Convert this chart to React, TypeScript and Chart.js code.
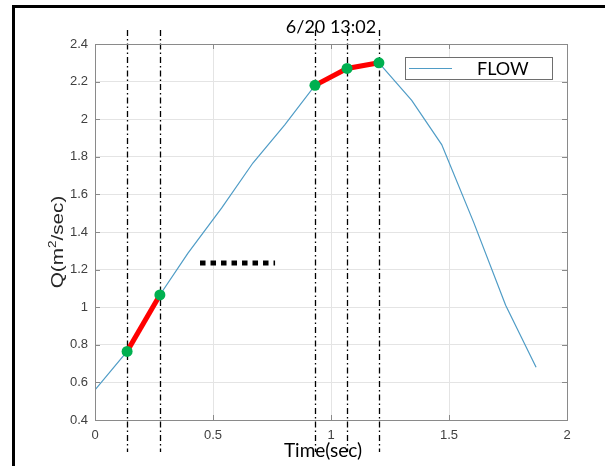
import React, { useEffect, useRef } from "react";
import { Chart, registerables } from "chart.js";

Chart.register(...registerables);

// ---- data ----
const TIME = [0, 0.136, 0.275, 0.394, 0.537, 0.669, 0.804, 0.932, 1.068, 1.203, 1.342, 1.469, 1.605, 1.74, 1.869];
const FLOW = [0.56, 0.765, 1.065, 1.288, 1.528, 1.767, 1.97, 2.18, 2.27, 2.3, 2.1, 1.865, 1.45, 1.01, 0.68];

const SEG1_TIME = [0.136, 0.275];
const SEG1_FLOW = [0.765, 1.065];
const SEG2_TIME = [0.932, 1.068, 1.203];
const SEG2_FLOW = [2.18, 2.27, 2.3];

const MARK_TIME = [0.136, 0.275, 0.932, 1.068, 1.203];
const MARK_FLOW = [0.765, 1.065, 2.18, 2.27, 2.3];

const DOTTED_TIME = [0.445, 0.763];
const DOTTED_FLOW = [1.235, 1.235];

const X_TICKS = [0, 0.5, 1, 1.5, 2];
const Y_TICKS = [0.4, 0.6, 0.8, 1, 1.2, 1.4, 1.6, 1.8, 2, 2.2, 2.4];

const TITLE = "6/20 13:02";
const X_LABEL = "Time(sec)";
const Y_LABEL_PARTS = ["Q(m", "2", "/sec)"];
const LEGEND_LABEL = "FLOW";

const BLUE = "#4f9cc6";
const RED = "#ff0000";
const GREEN = "#00b050";
const BOX = "#8a8a8a";
const GRID = "#e4e4e4";
const TICK_TEXT = "#404040";

const pts = (xs: number[], ys: number[]) => xs.map((x, i) => ({ x, y: ys[i] }));

const decor = {
  id: "decor",
  beforeDraw(chart: any) {
    const ctx = chart.ctx;
    ctx.save();
    ctx.fillStyle = "#ffffff";
    ctx.fillRect(0, 0, chart.width, chart.height);
    ctx.fillStyle = "#000000";
    ctx.fillRect(12, 5, 3, chart.height);
    ctx.fillRect(12, 5, chart.width, 3);
    ctx.restore();
  },
  beforeDatasetsDraw(chart: any) {
    const ctx = chart.ctx;
    const xs = chart.scales.x;
    ctx.save();
    ctx.strokeStyle = "#000000";
    ctx.lineWidth = 1.3;
    ctx.setLineDash([6, 3, 1.5, 3]);
    MARK_TIME.forEach((t) => {
      const px = Math.round(xs.getPixelForValue(t)) + 0.5;
      ctx.beginPath();
      ctx.moveTo(px, 30);
      ctx.lineTo(px, 452);
      ctx.stroke();
    });
    ctx.restore();
  },
  afterDraw(chart: any) {
    const ctx = chart.ctx;
    const a = chart.chartArea;
    const xs = chart.scales.x;
    const ys = chart.scales.y;
    ctx.save();
    // box
    ctx.strokeStyle = BOX;
    ctx.lineWidth = 1;
    ctx.strokeRect(Math.round(a.left) + 0.5, Math.round(a.top) + 0.5, Math.round(a.right - a.left), Math.round(a.bottom - a.top));
    // inner ticks
    const tl = 5;
    ctx.beginPath();
    X_TICKS.forEach((v) => {
      const px = Math.round(xs.getPixelForValue(v)) + 0.5;
      ctx.moveTo(px, a.bottom);
      ctx.lineTo(px, a.bottom - tl);
      ctx.moveTo(px, a.top);
      ctx.lineTo(px, a.top + tl);
    });
    Y_TICKS.forEach((v) => {
      const py = Math.round(ys.getPixelForValue(v)) + 0.5;
      ctx.moveTo(a.left, py);
      ctx.lineTo(a.left + tl, py);
      ctx.moveTo(a.right, py);
      ctx.lineTo(a.right - tl, py);
    });
    ctx.stroke();

    const cx = (a.left + a.right) / 2;
    // title
    ctx.fillStyle = "#000000";
    ctx.font = "18px Lato";
    ctx.textAlign = "center";
    ctx.textBaseline = "middle";
    ctx.fillText(TITLE, cx, 27);
    // x label
    ctx.font = "19px Lato";
    ctx.fillText(X_LABEL, cx - 8, 451);

    // y label with superscript
    ctx.save();
    ctx.translate(57, 242);
    ctx.rotate(-Math.PI / 2);
    ctx.scale(1.22, 1);
    ctx.fillStyle = "#262626";
    const big = "17px 'Liberation Sans'";
    const small = "11px 'Liberation Sans'";
    ctx.font = big;
    const w0 = ctx.measureText(Y_LABEL_PARTS[0]).width;
    const w2 = ctx.measureText(Y_LABEL_PARTS[2]).width;
    ctx.font = small;
    const w1 = ctx.measureText(Y_LABEL_PARTS[1]).width;
    const total = w0 + w1 + w2;
    const x0 = -total / 2;
    ctx.textAlign = "left";
    ctx.textBaseline = "alphabetic";
    ctx.font = big;
    ctx.fillText(Y_LABEL_PARTS[0], x0, 6);
    ctx.font = small;
    ctx.fillText(Y_LABEL_PARTS[1], x0 + w0, -1);
    ctx.font = big;
    ctx.fillText(Y_LABEL_PARTS[2], x0 + w0 + w1, 6);
    ctx.restore();

    // legend
    const lx = 405, ly = 57, lw = 147, lh = 22;
    ctx.fillStyle = "#ffffff";
    ctx.fillRect(lx, ly, lw, lh);
    ctx.strokeStyle = "#6e6e6e";
    ctx.lineWidth = 1;
    ctx.strokeRect(lx + 0.5, ly + 0.5, lw, lh);
    ctx.strokeStyle = BLUE;
    ctx.beginPath();
    ctx.moveTo(lx + 4, ly + 11.5);
    ctx.lineTo(lx + 47, ly + 11.5);
    ctx.stroke();
    ctx.fillStyle = "#000000";
    ctx.font = "18px Lato";
    ctx.textAlign = "left";
    ctx.textBaseline = "middle";
    ctx.fillText(LEGEND_LABEL, lx + 72, ly + 12);
    ctx.restore();
  },
};

export default function App() {
  const ref = useRef<HTMLCanvasElement | null>(null);
  useEffect(() => {
    if (!ref.current) return;
    const chart = new Chart(ref.current, {
      type: "line",
      data: {
        datasets: [
          {
            label: "marks",
            data: pts(MARK_TIME, MARK_FLOW),
            showLine: false,
            pointRadius: 5.5,
            pointBackgroundColor: GREEN,
            pointBorderWidth: 0,
            borderColor: GREEN,
          },
          {
            label: "seg1",
            data: pts(SEG1_TIME, SEG1_FLOW),
            borderColor: RED,
            borderWidth: 5,
            pointRadius: 0,
          },
          {
            label: "seg2",
            data: pts(SEG2_TIME, SEG2_FLOW),
            borderColor: RED,
            borderWidth: 5,
            pointRadius: 0,
          },
          {
            label: LEGEND_LABEL,
            data: pts(TIME, FLOW),
            borderColor: BLUE,
            borderWidth: 1.2,
            pointRadius: 0,
          },
          {
            label: "dotted",
            data: pts(DOTTED_TIME, DOTTED_FLOW),
            borderColor: "#000000",
            borderWidth: 5,
            borderDash: [5.5, 5],
            borderCapStyle: "butt",
            pointRadius: 0,
          },
        ],
      },
      options: {
        animation: false,
        responsive: false,
        devicePixelRatio: 1,
        layout: { padding: { left: 55, top: 44, right: 38, bottom: 26 } },
        plugins: { legend: { display: false }, tooltip: { enabled: false }, title: { display: false } },
        scales: {
          x: {
            type: "linear",
            min: 0,
            max: 2,
            afterBuildTicks: (s: any) => {
              s.ticks = X_TICKS.map((v) => ({ value: v }));
            },
            afterFit: (s: any) => {
              s.height = 20;
            },
            grid: { color: GRID, drawTicks: false },
            border: { display: false },
            ticks: {
              padding: 8,
              color: TICK_TEXT,
              font: { family: "'Liberation Sans'", size: 13 },
              maxRotation: 0,
              callback: (v: any) => String(Number(Number(v).toFixed(2))),
            },
          },
          y: {
            type: "linear",
            min: 0.4,
            max: 2.4,
            afterBuildTicks: (s: any) => {
              s.ticks = Y_TICKS.map((v) => ({ value: v }));
            },
            afterFit: (s: any) => {
              s.width = 40;
            },
            grid: { color: GRID, drawTicks: false },
            border: { display: false },
            ticks: {
              padding: 7,
              color: TICK_TEXT,
              font: { family: "'Liberation Sans'", size: 13 },
              callback: (v: any) => String(Number(Number(v).toFixed(2))),
            },
          },
        },
      },
      plugins: [decor],
    });
    return () => chart.destroy();
  }, []);
  return (
    <div style={{ position: "absolute", left: 0, top: 0, width: 605, height: 466, background: "#fff" }}>
      <canvas ref={ref} width={605} height={466} style={{ display: "block", width: 605, height: 466 }} />
    </div>
  );
}
